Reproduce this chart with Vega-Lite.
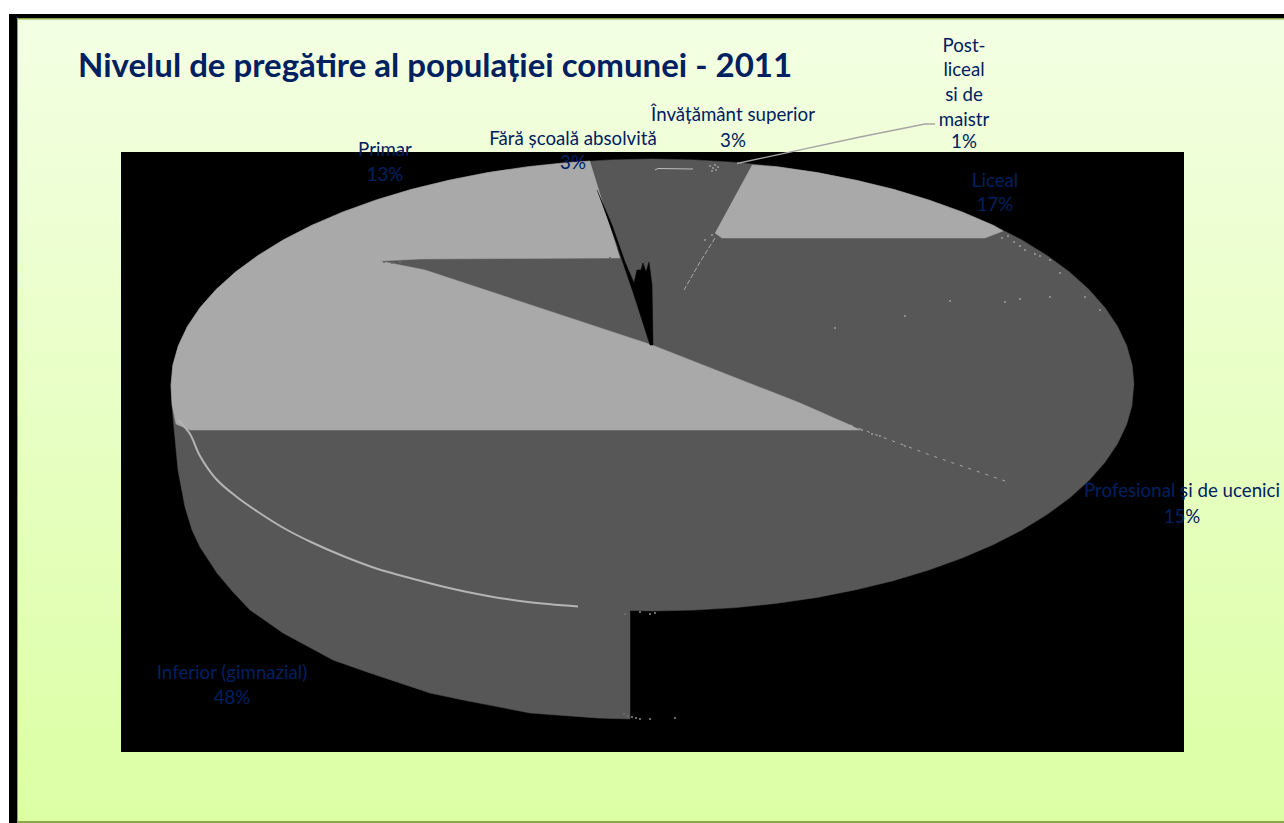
{
"$schema":"https://vega.github.io/schema/vega-lite/v6.json",
"width":1284,"height":823,"padding":0,
"autosize":{"type":"fit","contains":"padding"},
"background":"#ffffff",
"config":{"view":{"stroke":null}},
"datasets":{
"frame":[{"x":9,"x2":1284,"y":14,"y2":823}],
"panel":[{"x":17,"x2":1284,"y":18,"y2":821}],
"edges":[{"x":17,"x2":1284,"y":18,"y2":19.5},{"x":17,"x2":18,"y":18,"y2":821},{"x":17,"x2":1284,"y":821,"y2":823}],
"plot":[{"x":121,"x2":1184,"y":152,"y2":752}],
"wall":[{"x":171,"y":385},{"x":171.7,"y":400},{"x":173,"y":417},{"x":178,"y":470},{"x":185,"y":507},{"x":192,"y":530},{"x":200,"y":547},{"x":217,"y":573},{"x":233,"y":592},{"x":250,"y":610},{"x":283,"y":633},{"x":333,"y":660},{"x":367,"y":672},{"x":430,"y":693},{"x":463,"y":700},{"x":530,"y":713},{"x":597,"y":718},{"x":630,"y":719},{"x":630,"y":600}],
"top":[{"x":1134,"y":385},{"x":1132.2,"y":365.3},{"x":1126.7,"y":345.8},{"x":1117.6,"y":326.5},{"x":1105,"y":307.7},{"x":1088.9,"y":289.5},{"x":1069.5,"y":272},{"x":1046.9,"y":255.4},{"x":1021.4,"y":239.7},{"x":993,"y":225.2},{"x":962,"y":211.9},{"x":928.7,"y":199.9},{"x":893.3,"y":189.3},{"x":856,"y":180.2},{"x":817.2,"y":172.6},{"x":777.1,"y":166.7},{"x":736.1,"y":162.4},{"x":694.5,"y":159.9},{"x":652.5,"y":159},{"x":610.5,"y":159.9},{"x":568.9,"y":162.4},{"x":527.9,"y":166.7},{"x":487.8,"y":172.6},{"x":449,"y":180.2},{"x":411.7,"y":189.3},{"x":376.3,"y":199.9},{"x":343,"y":211.9},{"x":312,"y":225.2},{"x":283.6,"y":239.7},{"x":258.1,"y":255.4},{"x":235.5,"y":272},{"x":216.1,"y":289.5},{"x":200,"y":307.7},{"x":187.4,"y":326.5},{"x":178.3,"y":345.8},{"x":172.8,"y":365.3},{"x":171,"y":385},{"x":172.8,"y":404.7},{"x":178.3,"y":424.2},{"x":187.4,"y":443.5},{"x":200,"y":462.3},{"x":216.1,"y":480.5},{"x":235.5,"y":498},{"x":258.1,"y":514.6},{"x":283.6,"y":530.3},{"x":312,"y":544.8},{"x":343,"y":558.1},{"x":376.3,"y":570.1},{"x":411.7,"y":580.7},{"x":449,"y":589.8},{"x":487.8,"y":597.4},{"x":527.9,"y":603.3},{"x":568.9,"y":607.6},{"x":610.5,"y":610.1},{"x":652.5,"y":611},{"x":694.5,"y":610.1},{"x":736.1,"y":607.6},{"x":777.1,"y":603.3},{"x":817.2,"y":597.4},{"x":856,"y":589.8},{"x":893.3,"y":580.7},{"x":928.7,"y":570.1},{"x":962,"y":558.1},{"x":993,"y":544.8},{"x":1021.4,"y":530.3},{"x":1046.9,"y":514.6},{"x":1069.5,"y":498},{"x":1088.9,"y":480.5},{"x":1105,"y":462.3},{"x":1117.6,"y":443.5},{"x":1126.7,"y":424.2},{"x":1132.2,"y":404.7}],
"lightBig":[{"x":590,"y":161},{"x":568.9,"y":162.4},{"x":527.9,"y":166.7},{"x":487.8,"y":172.6},{"x":449,"y":180.2},{"x":411.7,"y":189.3},{"x":376.3,"y":199.9},{"x":343,"y":211.9},{"x":312,"y":225.2},{"x":283.6,"y":239.7},{"x":258.1,"y":255.4},{"x":235.5,"y":272},{"x":216.1,"y":289.5},{"x":200,"y":307.7},{"x":187.4,"y":326.5},{"x":178.3,"y":345.8},{"x":172.8,"y":365.3},{"x":171,"y":385},{"x":172,"y":404.7},{"x":176,"y":424},{"x":190,"y":430},{"x":860,"y":430},{"x":850,"y":425},{"x":800,"y":403},{"x":652,"y":345},{"x":425,"y":270},{"x":380,"y":261},{"x":420,"y":259},{"x":620,"y":258}],
"lightLiceal":[{"x":752,"y":165},{"x":777.1,"y":166.7},{"x":817.2,"y":172.6},{"x":856,"y":180.2},{"x":893.3,"y":189.3},{"x":928.7,"y":199.9},{"x":962,"y":211.9},{"x":993,"y":225.2},{"x":1003,"y":231},{"x":985,"y":238},{"x":722,"y":238},{"x":715,"y":233}],
"blackSliver":[{"x":597,"y":190},{"x":612,"y":225},{"x":625,"y":262},{"x":634,"y":283},{"x":637,"y":270},{"x":641,"y":270},{"x":643,"y":263},{"x":646,"y":272},{"x":649,"y":262},{"x":652,"y":285},{"x":653,"y":345},{"x":650,"y":345},{"x":634,"y":295},{"x":618,"y":248}],
"rimArc":[{"x":178.3,"y":420},{"x":190,"y":434},{"x":200,"y":456},{"x":216.1,"y":479},{"x":235.5,"y":496},{"x":258.1,"y":512},{"x":283.6,"y":528},{"x":312,"y":542.5},{"x":343,"y":556},{"x":376.3,"y":568.5},{"x":411.7,"y":578.5},{"x":449,"y":588},{"x":487.8,"y":596},{"x":527.9,"y":602},{"x":578,"y":606.5}],
"crack1":[{"x":715,"y":238},{"x":700,"y":262},{"x":684,"y":290}],
"crack2":[{"x":850,"y":425},{"x":930,"y":455},{"x":1008,"y":482}],
"crack3":[{"x":655,"y":170},{"x":658,"y":168.5},{"x":693,"y":169}],
"leader":[{"x":737,"y":163.5},{"x":860,"y":137},{"x":925,"y":124},{"x":935,"y":124}],
"specks":[{"x":710,"y":166},{"x":713,"y":168},{"x":715,"y":165},{"x":716,"y":170},{"x":712,"y":171},{"x":718,"y":167},{"x":1002,"y":238},{"x":1008,"y":236},{"x":1014,"y":242},{"x":1020,"y":246},{"x":1025,"y":250},{"x":1035,"y":254},{"x":1040,"y":256},{"x":1050,"y":260},{"x":1060,"y":273},{"x":950,"y":301},{"x":1005,"y":302},{"x":1020,"y":299},{"x":1050,"y":297},{"x":1085,"y":297},{"x":1100,"y":310},{"x":905,"y":316},{"x":835,"y":328},{"x":805,"y":408},{"x":862,"y":430},{"x":872,"y":434},{"x":880,"y":436},{"x":905,"y":446},{"x":705,"y":240},{"x":712,"y":235},{"x":720,"y":228}],
"darkSpecks":[{"x":384,"y":262},{"x":392,"y":263},{"x":400,"y":262},{"x":610,"y":258},{"x":625,"y":614},{"x":640,"y":612},{"x":650,"y":614},{"x":655,"y":613},{"x":624,"y":714},{"x":628,"y":716},{"x":632,"y":717},{"x":636,"y":718},{"x":640,"y":719},{"x":650,"y":719},{"x":675,"y":718}],
"title":[{"x":78,"y":67,"text":"Nivelul de pregătire al populației comunei - 2011"}],
"labels":[
{"x":964,"y":46,"text":"Post-"},{"x":964,"y":70,"text":"liceal"},{"x":964,"y":95,"text":"si de"},{"x":964,"y":120,"text":"maistr"},{"x":964,"y":142,"text":"1%"},
{"x":733,"y":115,"text":"Învățământ superior"},{"x":733,"y":141,"text":"3%"},
{"x":573,"y":139,"text":"Fără școală absolvită"},{"x":573,"y":163,"text":"3%"},
{"x":385,"y":150,"text":"Primar"},{"x":385,"y":175,"text":"13%"},
{"x":995,"y":181,"text":"Liceal"},{"x":995,"y":205,"text":"17%"},
{"x":1182,"y":491,"text":"Profesional și de ucenici"},{"x":1182,"y":517,"text":"15%"},
{"x":232,"y":673,"text":"Inferior (gimnazial)"},{"x":232,"y":698,"text":"48%"}]
},
"encoding":{
"x":{"field":"x","type":"quantitative","scale":{"domain":[0,1284],"nice":false,"zero":false},"axis":null},
"y":{"field":"y","type":"quantitative","scale":{"domain":[823,0],"nice":false,"zero":false},"axis":null}
},
"layer":[
{"data":{"name":"frame"},"mark":{"type":"rect","color":"#000000"},"encoding":{"x2":{"field":"x2"},"y2":{"field":"y2"}}},
{"data":{"name":"panel"},"mark":{"type":"rect","color":{"gradient":"linear","x1":0,"y1":0,"x2":0,"y2":1,"stops":[{"offset":0,"color":"#f3ffe3"},{"offset":1,"color":"#dcffa4"}]}},"encoding":{"x2":{"field":"x2"},"y2":{"field":"y2"}}},
{"data":{"name":"edges"},"mark":{"type":"rect","color":"#8aa84a"},"encoding":{"x2":{"field":"x2"},"y2":{"field":"y2"}}},
{"data":{"name":"plot"},"mark":{"type":"rect","color":"#000000"},"encoding":{"x2":{"field":"x2"},"y2":{"field":"y2"}}},
{"data":{"name":"wall"},"mark":{"type":"line","fill":"#575757","stroke":"#575757","strokeWidth":0.5},"encoding":{"order":{"value":null}}},
{"data":{"name":"top"},"mark":{"type":"line","fill":"#575757","stroke":"#575757","strokeWidth":0.5},"encoding":{"order":{"value":null}}},
{"data":{"name":"lightBig"},"mark":{"type":"line","fill":"#a9a9a9","stroke":"#a9a9a9","strokeWidth":0.5},"encoding":{"order":{"value":null}}},
{"data":{"name":"lightLiceal"},"mark":{"type":"line","fill":"#a9a9a9","stroke":"#a9a9a9","strokeWidth":0.5},"encoding":{"order":{"value":null}}},
{"data":{"name":"blackSliver"},"mark":{"type":"line","fill":"#000000","stroke":"#000000","strokeWidth":0.5},"encoding":{"order":{"value":null}}},
{"data":{"name":"rimArc"},"mark":{"type":"line","stroke":"#b4b4b4","strokeWidth":2,"interpolate":"catmull-rom"},"encoding":{"order":{"value":null}}},
{"data":{"name":"crack1"},"mark":{"type":"line","stroke":"#a9a9a9","strokeWidth":1,"strokeDash":[5,2]},"encoding":{"order":{"value":null}}},
{"data":{"name":"crack2"},"mark":{"type":"line","stroke":"#a9a9a9","strokeWidth":1,"strokeDash":[3,6]},"encoding":{"order":{"value":null}}},
{"data":{"name":"crack3"},"mark":{"type":"line","stroke":"#bdbdbd","strokeWidth":1},"encoding":{"order":{"value":null}}},
{"data":{"name":"leader"},"mark":{"type":"line","stroke":"#a6a6a6","strokeWidth":1.3},"encoding":{"order":{"value":null}}},
{"data":{"name":"specks"},"mark":{"type":"square","color":"#a9a9a9","size":3,"opacity":1}},
{"data":{"name":"darkSpecks"},"mark":{"type":"square","color":"#6a6a6a","size":4,"opacity":1}},
{"data":{"name":"title"},"mark":{"type":"text","align":"left","baseline":"middle","font":"Lato","fontWeight":"bold","fontSize":33,"color":"#002060"},"encoding":{"text":{"field":"text"}}},
{"data":{"name":"labels"},"mark":{"type":"text","align":"center","baseline":"middle","font":"Lato","fontSize":18.7,"color":"#002060"},"encoding":{"text":{"field":"text"}}}
]
}
